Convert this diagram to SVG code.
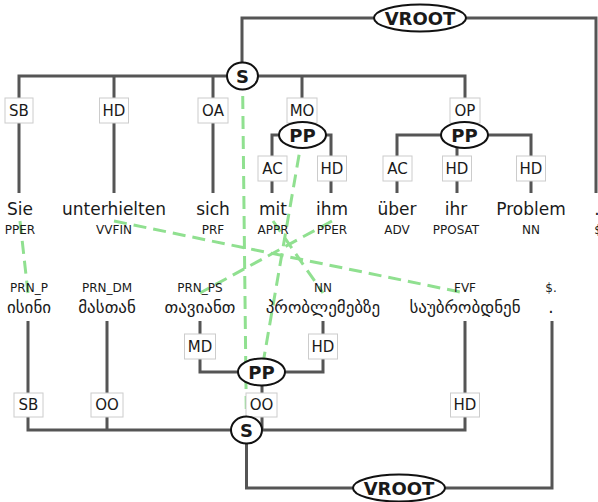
<svg xmlns="http://www.w3.org/2000/svg" width="598" height="502" viewBox="0 0 598 502">
<style>
.e{stroke:#555;stroke-width:3;fill:none}
.al{stroke:#90e090;stroke-width:3;stroke-dasharray:13 7;fill:none}
.lb rect{fill:#fff;stroke:#ccc;stroke-width:1}
text{font-family:"DejaVu Sans",sans-serif;fill:#1a1a1a;text-anchor:middle}
.lb text{font-size:15px}
.nd ellipse{fill:#fff;stroke:#111;stroke-width:2}
.nd text{font-size:18px;font-weight:bold}
.w{font-size:17px}
.p{font-size:12px}
</style>
<rect width="598" height="502" fill="#fff"/>
<g id="connectors">
<path class="e" d="M242 76V18H596V193"/>
<path class="e" d="M19 193V76H465V135"/>
<path class="e" d="M114 76V193M213 76V193M302 76V135"/>
<path class="e" d="M272 193V135H331V193"/>
<path class="e" d="M397 193V135H531V193M457 135V193"/>
<path class="e" d="M28 321V430H465V321M107 321V430"/>
<path class="e" d="M200 321V372H323V321M262 372V430"/>
<path class="e" d="M246.5 430V488H552V321"/>
</g>
<g id="alignments">
<path class="al" d="M242.5 76L246.5 430"/>
<path class="al" d="M302.5 135L261.5 372"/>
<path class="al" d="M20 221L28 293"/>
<path class="al" d="M114 221L465 293"/>
<path class="al" d="M332 221L200 293"/>
<path class="al" d="M273 221L323 293"/>
</g>
<g id="edge-labels">
<g class="lb"><rect x="5" y="98" width="28" height="25"/><text x="19" y="116">SB</text></g>
<g class="lb"><rect x="99.5" y="98" width="29" height="25"/><text x="114" y="116">HD</text></g>
<g class="lb"><rect x="198" y="98" width="30" height="25"/><text x="213" y="116">OA</text></g>
<g class="lb"><rect x="287" y="98" width="30" height="25"/><text x="302" y="116">MO</text></g>
<g class="lb"><rect x="450" y="98" width="30" height="25"/><text x="465" y="116">OP</text></g>
<g class="lb"><rect x="258" y="156" width="29" height="25"/><text x="272.5" y="174">AC</text></g>
<g class="lb"><rect x="317.5" y="156" width="29" height="25"/><text x="332" y="174">HD</text></g>
<g class="lb"><rect x="383" y="156" width="29" height="25"/><text x="397.5" y="174">AC</text></g>
<g class="lb"><rect x="442.5" y="156" width="29" height="25"/><text x="457" y="174">HD</text></g>
<g class="lb"><rect x="516.5" y="156" width="29" height="25"/><text x="531" y="174">HD</text></g>
<g class="lb"><rect x="184.5" y="334" width="31" height="25"/><text x="200" y="352">MD</text></g>
<g class="lb"><rect x="308.5" y="334" width="29" height="25"/><text x="323" y="352">HD</text></g>
<g class="lb"><rect x="14" y="393" width="29" height="24"/><text x="28.5" y="410">SB</text></g>
<g class="lb"><rect x="91" y="393" width="32" height="24"/><text x="107" y="410">OO</text></g>
<g class="lb"><rect x="246" y="393" width="31" height="24"/><text x="261.5" y="410">OO</text></g>
<g class="lb"><rect x="450.5" y="393" width="29" height="24"/><text x="465" y="410">HD</text></g>
</g>
<g id="n-vroot-top" class="nd"><ellipse cx="420" cy="18" rx="46" ry="13.5"/><text x="420" y="24.5">VROOT</text></g>
<g id="n-s-top" class="nd"><ellipse cx="242.5" cy="76" rx="15.5" ry="13.5"/><text x="242.5" y="82.5">S</text></g>
<g id="n-pp-mo" class="nd"><ellipse cx="302.5" cy="135" rx="23.5" ry="13"/><text x="302.5" y="141.5">PP</text></g>
<g id="n-pp-op" class="nd"><ellipse cx="464.5" cy="135" rx="23.5" ry="13"/><text x="464.5" y="141.5">PP</text></g>
<g id="n-pp-bot" class="nd"><ellipse cx="261.5" cy="372" rx="23.5" ry="13.5"/><text x="261.5" y="378.5">PP</text></g>
<g id="n-s-bot" class="nd"><ellipse cx="246.5" cy="430" rx="15.5" ry="13.5"/><text x="246.5" y="436.5">S</text></g>
<g id="n-vroot-bot" class="nd"><ellipse cx="399" cy="488" rx="46" ry="13.5"/><text x="399" y="494.5">VROOT</text></g>
<g id="tokens-top">
<text class="w" x="20" y="215">Sie</text><text class="p" x="20" y="234">PPER</text>
<text class="w" x="114" y="215">unterhielten</text><text class="p" x="114" y="234">VVFIN</text>
<text class="w" x="213" y="215">sich</text><text class="p" x="213" y="234">PRF</text>
<text class="w" x="273" y="215">mit</text><text class="p" x="273" y="234">APPR</text>
<text class="w" x="332" y="215">ihm</text><text class="p" x="332" y="234">PPER</text>
<text class="w" x="397" y="215">über</text><text class="p" x="397" y="234">ADV</text>
<text class="w" x="456" y="215">ihr</text><text class="p" x="456" y="234">PPOSAT</text>
<text class="w" x="531" y="215">Problem</text><text class="p" x="531" y="234">NN</text>
<text class="w" x="597" y="215">.</text><text class="p" x="600" y="234">$.</text>
</g>
<g id="tokens-bottom">
<text class="p" x="29" y="292">PRN_P</text><text class="w" x="29" y="313">ისინი</text>
<text class="p" x="107" y="292">PRN_DM</text><text class="w" x="107" y="313">მასთან</text>
<text class="p" x="200" y="292">PRN_PS</text><text class="w" x="200" y="313">თავიანთ</text>
<text class="p" x="323" y="292">NN</text><text class="w" x="323" y="313">პრობლემებზე</text>
<text class="p" x="465" y="292">FVF</text><text class="w" x="465" y="313">საუბრობდნენ</text>
<text class="p" x="551" y="292">$.</text><text class="w" x="551" y="313">.</text>
</g>
</svg>
